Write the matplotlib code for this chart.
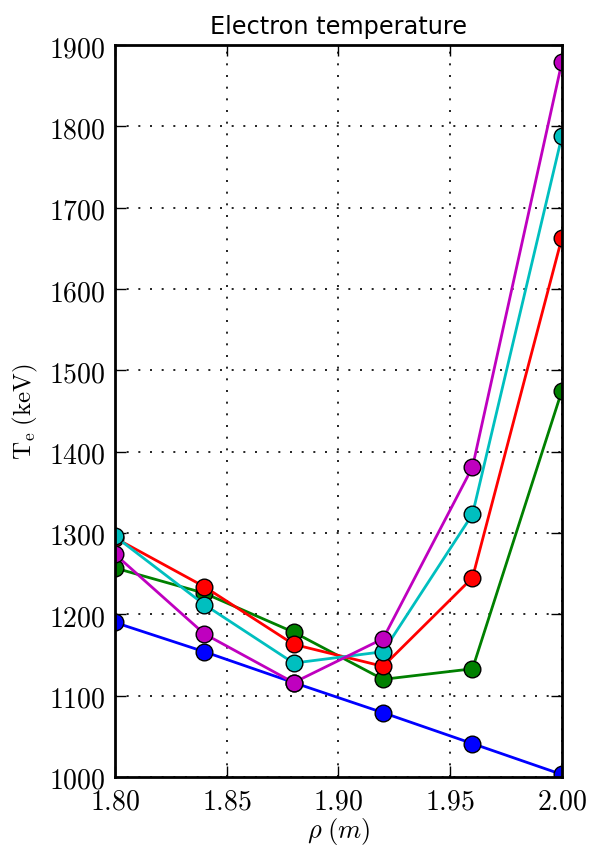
import matplotlib
matplotlib.use('Agg')
import matplotlib.pyplot as plt
from matplotlib.ticker import FormatStrFormatter

plt.rcParams['mathtext.fontset'] = 'cm'

# radial positions (m)
rho = [1.80, 1.84, 1.88, 1.92, 1.96, 2.00]

# electron temperature profiles (keV), one per time slice
te_blue = [1190, 1154, 1116, 1079, 1041, 1003]
te_green = [1257, 1226, 1178, 1120, 1133, 1475]
te_red = [1294, 1234, 1163, 1136, 1245, 1663]
te_cyan = [1296, 1212, 1140, 1154, 1323, 1788]
te_magenta = [1274, 1176, 1116, 1170, 1381, 1879]

profiles = [te_blue, te_green, te_red, te_cyan, te_magenta]
colors = ['b', 'g', 'r', 'c', 'm']

fig = plt.figure(figsize=(5.89, 8.53), dpi=100)
ax = fig.add_axes([0.195, 0.088, 0.759, 0.858])

for te, c in zip(profiles, colors):
    ax.plot(rho, te, '-o', color=c, lw=2, markersize=12,
            markeredgecolor='k', markeredgewidth=1)

ax.set_xlim(1.80, 2.00)
ax.set_ylim(1000, 1900)
ax.set_xticks([1.80, 1.85, 1.90, 1.95, 2.00])
ax.set_yticks(range(1000, 2000, 100))
ax.xaxis.set_major_formatter(FormatStrFormatter('$%.2f$'))
ax.yaxis.set_major_formatter(FormatStrFormatter('$%d$'))
ax.tick_params(direction='in', top=True, right=True, length=8, width=1,
               labelsize=20, pad=7)
for s in ax.spines.values():
    s.set_linewidth(2)

ax.grid(True, color='k', linestyle=(0, (1.2, 5.8)), linewidth=1.2)

ax.set_title('Electron temperature', fontsize=17.3, pad=9)
ax.set_xlabel(r'$\rho\;(m)$', fontsize=19, labelpad=0)
ax.set_ylabel(r'$\mathrm{T_{\mathrm{e}}\;(keV)}$', fontsize=18, labelpad=6)

fig.savefig('out.png', dpi=100)
